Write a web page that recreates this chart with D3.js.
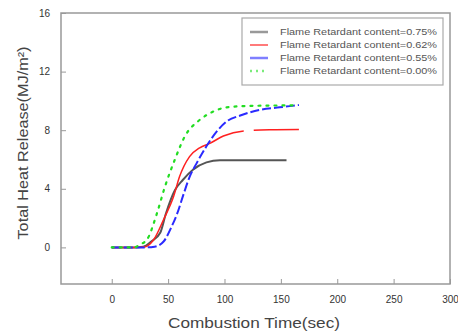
<!DOCTYPE html>
<html>
<head>
<meta charset="utf-8">
<script src="https://cdn.jsdelivr.net/npm/d3@7"></script>
<style>
  body { margin: 0; background: #fff; }
  svg { display: block; font-family: "Liberation Sans", Arial, sans-serif; }
</style>
</head>
<body>
<div id="chart"></div>
<script>
// Dados (tempo em s, liberação de calor em MJ/m²)
const xTicks = [0, 50, 100, 150, 200, 250, 300];
const yTicks = [0, 4, 8, 12, 16];

const t075 = [0, 10, 20, 28, 35, 43, 48, 56, 63, 72, 84, 96, 110, 130, 155];
const v075 = [0, 0, 0, 0.05, 0.4, 1.0, 2.3, 3.9, 4.6, 5.3, 5.8, 5.95, 5.95, 5.95, 5.95];

const t062 = [0, 10, 20, 30, 37, 46, 55, 60, 69, 78, 87, 99, 117, 140, 166];
const v062 = [0, 0, 0, 0.05, 0.5, 1.9, 3.5, 4.8, 6.2, 6.8, 7.1, 7.6, 7.95, 8.03, 8.05];

const t055 = [0, 10, 20, 30, 38, 46, 53, 58, 64, 69, 75, 84, 93, 102, 114, 132, 149, 166];
const v055 = [0, 0, 0, 0, 0.05, 0.4, 1.4, 2.3, 3.7, 4.8, 5.7, 6.9, 7.9, 8.6, 9.0, 9.4, 9.56, 9.72];

const t000 = [0, 10, 20, 25, 31, 40, 47, 56, 65, 78, 90, 102, 120, 140, 162];
const v000 = [0, 0, 0, 0.2, 0.5, 2.3, 4.1, 6.0, 7.6, 8.7, 9.27, 9.56, 9.65, 9.68, 9.7];

const seriesLabels = [
    "Flame Retardant content=0.75%",
    "Flame Retardant content=0.62%",
    "Flame Retardant content=0.55%",
    "Flame Retardant content=0.00%"
];

const series = [
    { label: seriesLabels[0], t: t075, v: v075, color: "#555", width: 2, dash: null },
    { label: seriesLabels[1], t: t062, v: v062, color: "#ff2020", width: 1.5, dash: "gap" },
    { label: seriesLabels[2], t: t055, v: v055, color: "#2a2aff", width: 2, dash: "9,3" },
    { label: seriesLabels[3], t: t000, v: v000, color: "#22dd22", width: 2.2, dash: "2,6" }
];

const W = 458, H = 336;
const margin = { left: 61, right: 8, top: 13, bottom: 52 };

const svg = d3.select("#chart").append("svg")
    .attr("width", W).attr("height", H);

const x = d3.scaleLinear().domain([-45, 300]).range([margin.left, W - margin.right]);
const y = d3.scaleLinear().domain([-2.5, 16]).range([H - margin.bottom, margin.top]);

// Eixos com ticks para dentro
const xAxis = svg.append("g")
    .attr("transform", `translate(0,${H - margin.bottom})`)
    .call(d3.axisBottom(x).tickValues(xTicks).tickSize(-5).tickPadding(12).tickFormat(d3.format("d")));
xAxis.select(".domain").remove();
xAxis.selectAll("line").attr("stroke", "#999");
xAxis.selectAll("text").attr("font-size", 10).attr("fill", "#333");

const yAxis = svg.append("g")
    .attr("transform", `translate(${margin.left},0)`)
    .call(d3.axisLeft(y).tickValues(yTicks).tickSize(-5).tickPadding(11));
yAxis.select(".domain").remove();
yAxis.selectAll("line").attr("stroke", "#999");
yAxis.selectAll("text").attr("font-size", 10).attr("fill", "#333");

// Curvas
const line = d3.line()
    .x(d => x(d[0]))
    .y(d => y(d[1]))
    .curve(d3.curveMonotoneX);

series.forEach(s => {
    const pts = s.t.map((t, i) => [t, s.v[i]]);
    const p = svg.append("path")
        .datum(pts)
        .attr("d", line)
        .attr("fill", "none")
        .attr("stroke", s.color)
        .attr("stroke-width", s.width)
        .attr("stroke-linecap", s.dash === "2,6" ? "round" : "butt");
    if (s.dash === "gap") {
        // linha vermelha contínua com uma interrupção perto de t=118
        const head = svg.append("path").datum(pts.filter(d => d[0] <= 117))
            .attr("d", line).attr("visibility", "hidden");
        const L = head.node().getTotalLength();
        head.remove();
        const total = p.node().getTotalLength();
        p.attr("stroke-dasharray", `${L},10,${total}`);
    } else if (s.dash) {
        p.attr("stroke-dasharray", s.dash);
    }
});

// Moldura
svg.append("rect")
    .attr("x", margin.left).attr("y", margin.top)
    .attr("width", W - margin.right - margin.left)
    .attr("height", H - margin.bottom - margin.top)
    .attr("fill", "none")
    .attr("stroke", "#999")
    .attr("stroke-width", 1.5);

// Legenda
const leg = svg.append("g");
leg.append("rect")
    .attr("x", 242).attr("y", 18).attr("width", 201).attr("height", 67)
    .attr("fill", "#fff").attr("stroke", "#aaa").attr("stroke-width", 1.2);

series.forEach((s, i) => {
    const ly = 32 + i * 13;
    leg.append("line")
        .attr("x1", 250).attr("x2", 268).attr("y1", ly).attr("y2", ly)
        .attr("stroke", s.color)
        .attr("stroke-opacity", i === 1 ? 1 : 0.6)
        .attr("stroke-width", i === 1 ? 1.2 : 2.5)
        .attr("stroke-dasharray", s.dash === "2,6" ? "2,4" : null);
    leg.append("text")
        .attr("x", 280).attr("y", ly + 3)
        .attr("font-size", 8.5)
        .attr("fill", "#555")
        .attr("textLength", 157)
        .attr("lengthAdjust", "spacingAndGlyphs")
        .text(s.label);
});

// Títulos dos eixos
svg.append("text")
    .attr("x", 254).attr("y", 328)
    .attr("text-anchor", "middle")
    .attr("font-size", 14)
    .attr("fill", "#444")
    .attr("textLength", 172)
    .attr("lengthAdjust", "spacingAndGlyphs")
    .text("Combustion Time(sec)");

svg.append("text")
    .attr("transform", "translate(28,143) rotate(-90)")
    .attr("text-anchor", "middle")
    .attr("font-size", 14)
    .attr("fill", "#444")
    .attr("textLength", 193)
    .attr("lengthAdjust", "spacingAndGlyphs")
    .text("Total Heat Release(MJ/m²)");
</script>
</body>
</html>
